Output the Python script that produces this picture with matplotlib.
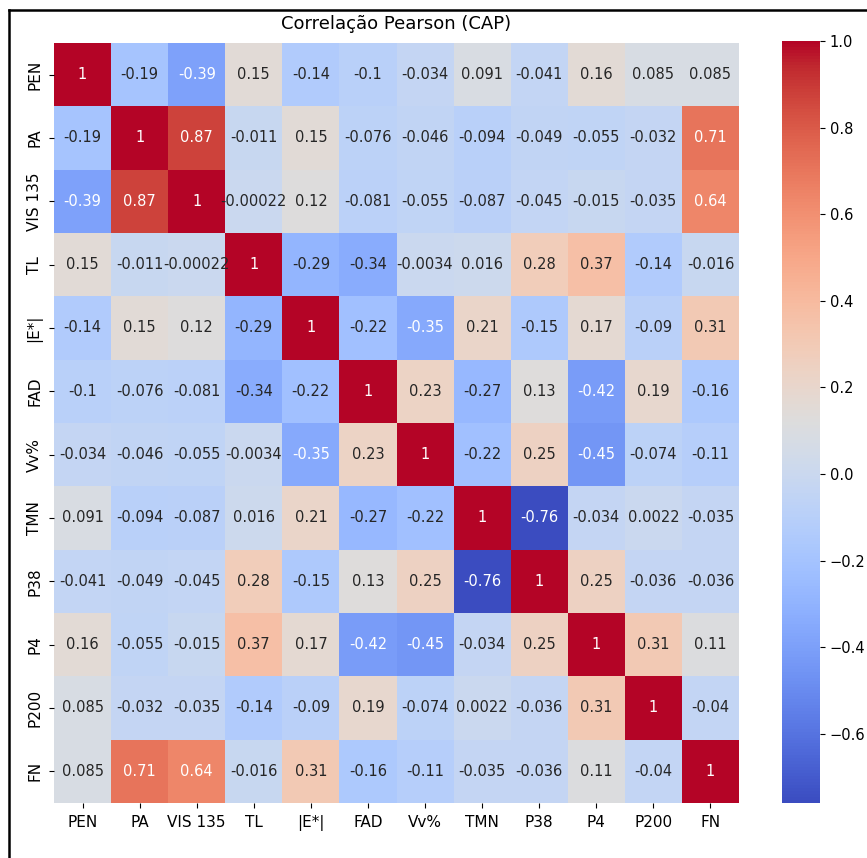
import numpy as np
import matplotlib.pyplot as plt
import seaborn as sns
from matplotlib.lines import Line2D

labels = ['PEN', 'PA', 'VIS 135', 'TL', '|E*|', 'FAD', 'Vv%', 'TMN', 'P38', 'P4', 'P200', 'FN']

pen = [1, -0.19, -0.39, 0.15, -0.14, -0.1, -0.034, 0.091, -0.041, 0.16, 0.085, 0.085]
pa = [-0.19, 1, 0.87, -0.011, 0.15, -0.076, -0.046, -0.094, -0.049, -0.055, -0.032, 0.71]
vis135 = [-0.39, 0.87, 1, -0.00022, 0.12, -0.081, -0.055, -0.087, -0.045, -0.015, -0.035, 0.64]
tl = [0.15, -0.011, -0.00022, 1, -0.29, -0.34, -0.0034, 0.016, 0.28, 0.37, -0.14, -0.016]
e_mod = [-0.14, 0.15, 0.12, -0.29, 1, -0.22, -0.35, 0.21, -0.15, 0.17, -0.09, 0.31]
fad = [-0.1, -0.076, -0.081, -0.34, -0.22, 1, 0.23, -0.27, 0.13, -0.42, 0.19, -0.16]
vv = [-0.034, -0.046, -0.055, -0.0034, -0.35, 0.23, 1, -0.22, 0.25, -0.45, -0.074, -0.11]
tmn = [0.091, -0.094, -0.087, 0.016, 0.21, -0.27, -0.22, 1, -0.76, -0.034, 0.0022, -0.035]
p38 = [-0.041, -0.049, -0.045, 0.28, -0.15, 0.13, 0.25, -0.76, 1, 0.25, -0.036, -0.036]
p4 = [0.16, -0.055, -0.015, 0.37, 0.17, -0.42, -0.45, -0.034, 0.25, 1, 0.31, 0.11]
p200 = [0.085, -0.032, -0.035, -0.14, -0.09, 0.19, -0.074, 0.0022, -0.036, 0.31, 1, -0.04]
fn = [0.085, 0.71, 0.64, -0.016, 0.31, -0.16, -0.11, -0.035, -0.036, 0.11, -0.04, 1]

corr = np.array([pen, pa, vis135, tl, e_mod, fad, vv, tmn, p38, p4, p200, fn])

W, H = 867, 858
fig = plt.figure(figsize=(W / 100, H / 100), dpi=100)
ax = fig.add_axes([54 / W, (H - 803) / H, (739 - 54) / W, (803 - 43) / H])
cax = fig.add_axes([782 / W, (H - 803) / H, 38 / W, (803 - 41) / H])

sns.heatmap(corr, ax=ax, cbar_ax=cax, cmap='coolwarm', annot=True,
            annot_kws={'fontsize': 10.5},
            xticklabels=labels, yticklabels=labels)
ax.tick_params(labelsize=11, pad=5)
plt.setp(ax.get_yticklabels(), rotation=90, va='center')
plt.setp(ax.get_xticklabels(), rotation=0)
cax.tick_params(labelsize=10.5)
ax.set_title('Correlação Pearson (CAP)', fontsize=13, pad=10)

# frame lines along top and left edge
fig.add_artist(Line2D([9 / W, 9 / W], [0, 1 - 10 / H], color='black', lw=1.8,
                      transform=fig.transFigure))
fig.add_artist(Line2D([9 / W, 1], [1 - 10 / H, 1 - 10 / H], color='black', lw=1.8,
                      transform=fig.transFigure))

fig.savefig('out.png', dpi=100)
